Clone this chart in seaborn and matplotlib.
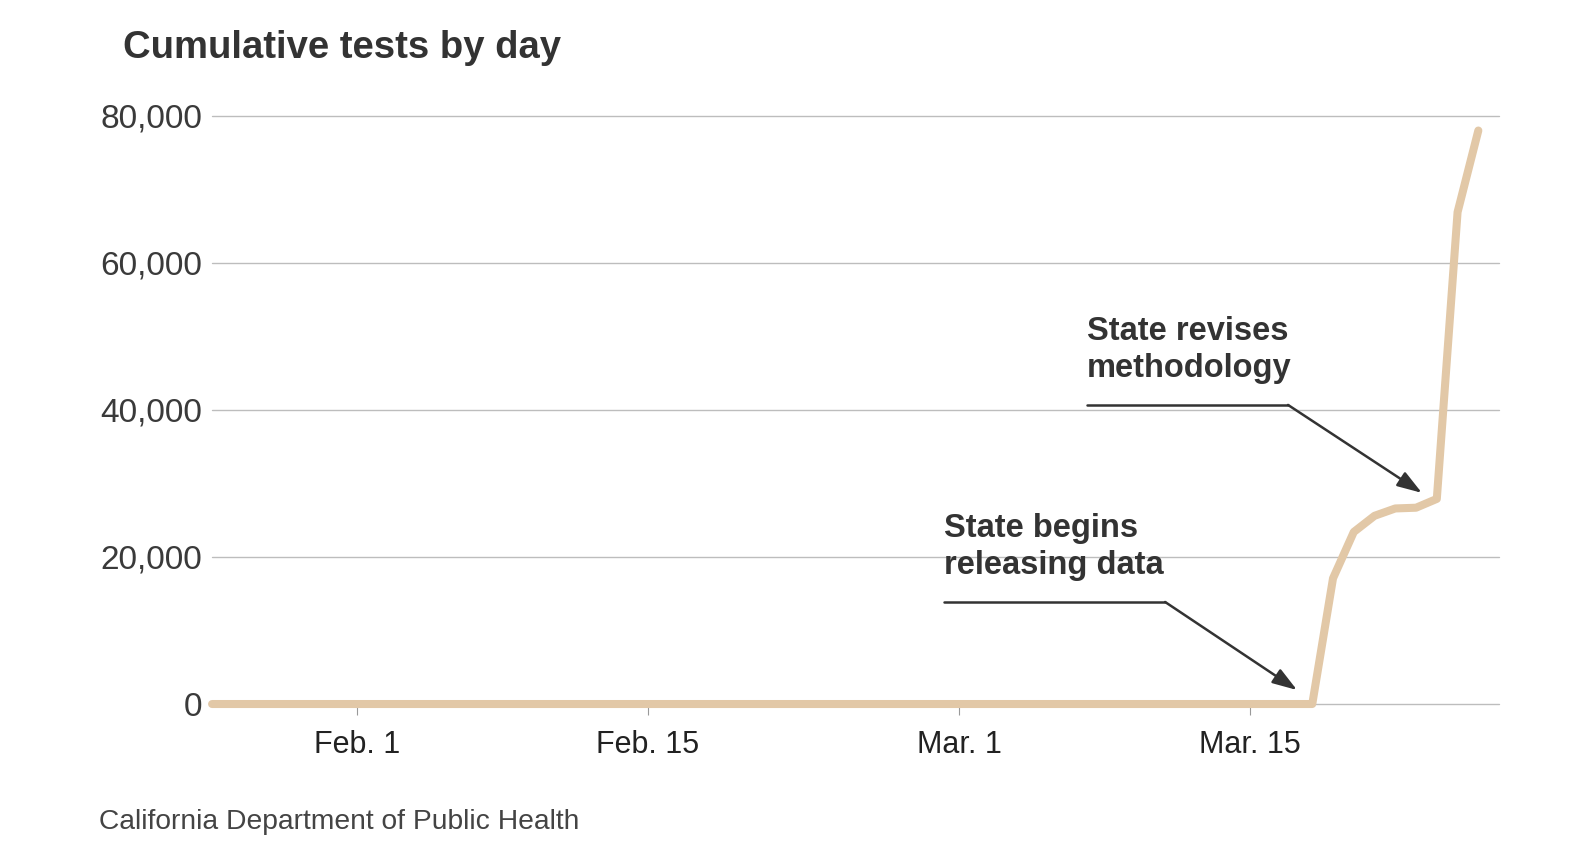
import pandas as pd
import matplotlib.pyplot as plt
import seaborn as sns

# --- data ---
start_date = '2020-01-25'
end_date = '2020-03-26'
late_days = ['2020-03-19', '2020-03-20', '2020-03-21', '2020-03-22',
             '2020-03-23', '2020-03-24', '2020-03-25', '2020-03-26']
late_tests = [17100, 23400, 25600, 26600, 26700, 27900, 66900, 78000]

tick_dates = ['2020-02-01', '2020-02-15', '2020-03-01', '2020-03-15']
tick_labels = ['Feb. 1', 'Feb. 15', 'Mar. 1', 'Mar. 15']
y_ticks = [0, 20000, 40000, 60000, 80000]

df = pd.DataFrame({'Fecha': pd.date_range(start_date, end_date, freq='D')})
df['Tests'] = 0
df.loc[df['Fecha'].isin(pd.to_datetime(late_days)), 'Tests'] = late_tests

sns.set_theme(style='white')
FONT = ['Liberation Sans Narrow', 'Liberation Sans', 'DejaVu Sans']
plt.rcParams['font.family'] = FONT

DARK = '#333333'
LINE = '#E2C8A7'

fig = plt.figure(figsize=(15.85, 8.65), dpi=100)
ax = fig.add_axes([0.1338, 0.1861, 0.812, 0.680])

sns.lineplot(data=df, x='Fecha', y='Tests', ax=ax, color=LINE, linewidth=5.8,
             solid_capstyle='round', solid_joinstyle='round', clip_on=False, zorder=3)

ax.set_xlim(pd.Timestamp('2020-01-25'), pd.Timestamp('2020-03-27'))
ax.set_ylim(0, 80000)
ax.set_xlabel('')
ax.set_ylabel('')
for s in ax.spines.values():
    s.set_visible(False)

ax.set_yticks(y_ticks)
ax.set_yticklabels([f'{v:,}' for v in y_ticks])
ax.set_xticks(pd.to_datetime(tick_dates))
ax.set_xticklabels(tick_labels)
ax.grid(axis='y', color='#bdbdbd', linewidth=1.0)
ax.grid(axis='x', visible=False)
for gl in ax.get_ygridlines():
    gl.set_clip_on(False)
ax.set_axisbelow(True)
ax.tick_params(axis='y', length=0, pad=7, labelsize=24, labelcolor='#3a3a3a')
ax.tick_params(axis='x', length=8, width=0.8, color='#999999', pad=11,
               labelsize=22, labelcolor='#222222', bottom=True)

# --- anotaciones ---
def nota(texto, tx, ty, line_end, tip):
    ax.text(tx, ty, texto, transform=ax.transAxes, ha='left', va='top',
            fontsize=23.5, fontweight='bold', color=DARK, linespacing=1.25)
    ax.plot([tx, line_end[0]], [line_end[1], line_end[1]], transform=ax.transAxes,
            color=DARK, linewidth=1.8, clip_on=False, zorder=4)
    ax.annotate('', xy=tip, xycoords='axes fraction', xytext=line_end,
                textcoords='axes fraction',
                arrowprops=dict(arrowstyle='-|>,head_length=0.75,head_width=0.25',
                                mutation_scale=20, color=DARK, linewidth=1.8,
                                shrinkA=0, shrinkB=0), zorder=4)

nota('State revises\nmethodology', 0.680, 0.660, (0.836, 0.5085), (0.940, 0.359))
nota('State begins\nreleasing data', 0.569, 0.325, (0.7405, 0.1735), (0.843, 0.0238))

fig.text(123 / 1585, 1 - 58 / 865, 'Cumulative tests by day', fontsize=27.5,
         fontweight='bold', color=DARK, va='baseline', ha='left')
fig.text(99 / 1585, 1 - 829 / 865, 'California Department of Public Health',
         fontsize=20.3, color='#444444', va='baseline', ha='left')

plt.savefig('out.png', dpi=100)
plt.close()
